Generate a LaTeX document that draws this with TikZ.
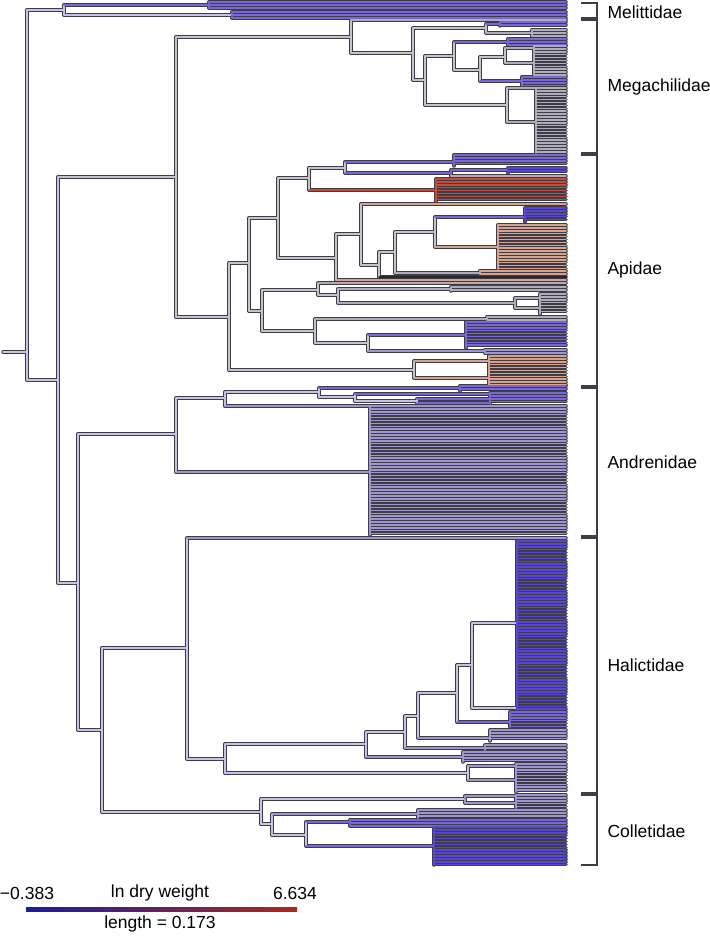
\documentclass[tikz,border=0pt]{standalone}
\usepackage{fontspec}
\setmainfont{Liberation Sans}
\usetikzlibrary{positioning}
\usetikzlibrary{calc}

\definecolor{outl}{RGB}{62,60,72}
\definecolor{bk}{RGB}{200,194,230}
\definecolor{gb}{RGB}{196,196,204}
\definecolor{gy}{RGB}{176,172,184}
\definecolor{gp}{RGB}{160,150,206}
\definecolor{pu}{RGB}{120,104,215}
\definecolor{bl}{RGB}{86,70,212}
\definecolor{rd}{RGB}{198,76,52}
\definecolor{tn}{RGB}{214,164,140}
\definecolor{dk}{RGB}{40,36,48}

\newcommand{\tipx}{566}
% parent, child 1, colour 1, child 2, colour 2, colour of the vertical
\newcommand{\bifurc}[6]{%
  \draw[br=#6] (#1 |- #2) -- (#1 |- #4);
  \draw[br=#3] (#1 |- #2) -- (#2);
  \draw[br=#5] (#1 |- #4) -- (#4);}
% x, first tip, last tip, colour
\newcommand{\fan}[4]{%
  \draw[br=#4] (#1,#2) -- (#1,#3);
  \pgfmathsetmacro\fanstep{#2+2.9}
  \foreach \yy in {#2,\fanstep,...,#3} \draw[br=#4] (#1,\yy) -- (\tipx,\yy);}

\newcommand{\treebody}{%
  \draw[br=bk] (base) -- (root);
  \bifurc{root}{mel}{bk}{nA}{bk}{bk}
  % Melittidae
  \bifurc{mel}{melA}{pu}{melB}{bk}{bk}
  \fan{209}{2}{8}{pu}
  \fan{232}{12}{18}{pu}
  \bifurc{nA}{nB}{gb}{nC}{bk}{bk}
  \bifurc{nB}{mega}{gb}{api}{gb}{gb}
  % Megachilidae
  \bifurc{mega}{mTip}{gy}{m2}{gb}{gb}
  \bifurc{m2}{m3}{gb}{m4}{gb}{gb}
  \bifurc{m3}{m3a}{pu}{m3b}{gy}{gb}
  \fan{500}{22}{26}{pu}
  \fan{532}{30}{36}{gy}
  \bifurc{m4}{m5}{gb}{m6}{gb}{gb}
  \bifurc{m5}{m5a}{pu}{m7}{gb}{gb}
  \fan{508}{39}{45}{pu}
  \bifurc{m7}{m8}{gb}{m7b}{pu}{gb}
  \bifurc{m8}{m8a}{gy}{m8b}{gy}{gb}
  \fan{534}{46}{75}{gy}
  \fan{522}{77}{86}{pu}
  \bifurc{m6}{m6a}{gy}{m6b}{gy}{gb}
  \fan{536}{88}{153}{gy}
  % Apidae
  \bifurc{api}{a1}{gb}{a2}{gb}{gb}
  \bifurc{a1}{a3}{gb}{a4}{gb}{gb}
  \bifurc{a3}{a5}{gb}{a6}{gb}{gb}
  \bifurc{a5}{a7}{gb}{a5b}{rd}{gb}
  \fan{436}{179}{202}{rd}
  \bifurc{a7}{a7a}{pu}{a8}{pu}{gb}
  \fan{454}{155}{166}{pu}
  \bifurc{a8}{a8a}{pu}{a8t}{gy}{pu}
  \fan{508}{168}{173}{bl}
  \bifurc{a6}{a9}{gb}{a6t}{tn}{gb}
  \bifurc{a9}{a9t}{tn}{a10}{gb}{gb}
  \bifurc{a10}{a11}{gb}{a10t}{dk}{gb}
  \bifurc{a11}{a12}{gb}{a13}{gy}{gb}
  \fan{480}{271}{274}{tn}
  \bifurc{a12}{a12a}{pu}{a12b}{tn}{gb}
  \fan{525}{208}{222}{bl}
  \fan{498}{225}{269}{tn}
  \bifurc{a4}{a14}{gb}{a15}{gb}{gb}
  \bifurc{a14}{a14t}{gy}{a16}{gb}{gb}
  \bifurc{a16}{a16a}{gy}{a17}{gy}{gb}
  \fan{451}{287}{291}{gy}
  \bifurc{a17}{a17a}{gy}{a17b}{gy}{gy}
  \fan{540}{294}{314}{gy}
  \bifurc{a15}{a15a}{gy}{a18}{gb}{gb}
  \fan{487}{317}{320}{gy}
  \bifurc{a18}{a18a}{pu}{a18b}{gp}{gb}
  \fan{466}{322}{348}{pu}
  \fan{485}{350}{353}{gp}
  \bifurc{a2}{a2a}{tn}{a2b}{tn}{gb}
  \fan{489}{356}{385}{tn}
  % Andrenidae
  \bifurc{nC}{and}{bk}{nE}{bk}{bk}
  \bifurc{and}{an1}{bk}{anF}{gp}{bk}
  \bifurc{an1}{an2}{bk}{an1b}{gp}{bk}
  \fan{370}{406}{535}{gp}
  \bifurc{an2}{an2a}{pu}{an3}{bk}{bk}
  \fan{460}{386}{391}{pu}
  \bifurc{an3}{an3a}{pu}{an4}{bk}{bk}
  \bifurc{an4}{an4a}{pu}{an4b}{pu}{bk}
  \fan{490}{393}{404}{pu}
  % Halictidae
  \bifurc{nE}{hal}{bk}{col}{bk}{bk}
  \bifurc{hal}{halT}{gp}{h1}{bk}{bk}
  \bifurc{h1}{h2}{bk}{h3}{bk}{bk}
  \bifurc{h2}{h4}{bk}{h5}{gp}{bk}
  \fan{463}{752}{762}{gp}
  \bifurc{h4}{h6}{bk}{h7}{gp}{bk}
  \fan{485}{745}{750}{gp}
  \bifurc{h6}{h8}{bk}{h9}{gp}{bk}
  \fan{490}{730}{741}{gp}
  \bifurc{h8}{h10}{bk}{h11}{pu}{bk}
  \fan{510}{712}{727}{pu}
  \bifurc{h10}{h10a}{bk}{h10b}{bk}{bk}
  \fan{517}{541}{710}{bl}
  \bifurc{h3}{h3a}{gp}{h3b}{gp}{bk}
  \fan{516}{764}{792}{gp}
  % Colletidae
  \bifurc{col}{c1}{bk}{c2}{bk}{bk}
  \bifurc{c1}{c1a}{gp}{c1b}{gp}{gp}
  \fan{516}{795}{808}{gp}
  \bifurc{c2}{c3}{gp}{c4}{bk}{bk}
  \fan{418}{810}{818}{gp}
  \bifurc{c4}{c5}{pu}{c6}{pu}{bk}
  \fan{350}{820}{826}{pu}
  \fan{434}{827}{865}{bl}
}

\begin{document}
\begin{tikzpicture}[x=1pt, y=-1pt,
    outer pass/.style={br/.style={draw=outl, line width=3.5pt, line cap=round, line join=round}},
    inner pass/.style={br/.style={draw=##1, line width=1.5pt, line cap=round, line join=round}},
    bracket/.style={draw=outl, line width=1.3pt},
    family/.style={anchor=west, font=\fontsize{17.5}{20}\selectfont},
    legend/.style={font=\fontsize{17.5}{20}\selectfont}]
    \useasboundingbox (0,0) rectangle (709,936);

    % nodes of the tree
    \coordinate (base) at (3,352);
    \coordinate (root) at (27,352);
    \coordinate (mel) at (64,10);
    \coordinate (melA) at (209,5);
    \coordinate (melB) at (232,15);
    \coordinate (nA) at (58,380);
    \coordinate (nB) at (176,177);
    \coordinate (nC) at (78,583);
    \coordinate (mega) at (351,37);
    \coordinate (mTip) at (566,20);
    \coordinate (m2) at (413,53);
    \coordinate (m3) at (486,28);
    \coordinate (m3a) at (500,24);
    \coordinate (m3b) at (532,33);
    \coordinate (m4) at (425,80);
    \coordinate (m5) at (454,56);
    \coordinate (m5a) at (508,42);
    \coordinate (m7) at (480,70);
    \coordinate (m8) at (505,57);
    \coordinate (m8a) at (534,48);
    \coordinate (m8b) at (534,63);
    \coordinate (m7b) at (522,81);
    \coordinate (m6) at (507,105);
    \coordinate (m6a) at (536,88);
    \coordinate (m6b) at (536,122);
    \coordinate (api) at (229,317);
    \coordinate (a1) at (249,263);
    \coordinate (a2) at (414,370);
    \coordinate (a2a) at (489,361);
    \coordinate (a2b) at (489,378);
    \coordinate (a3) at (278,218);
    \coordinate (a4) at (262,311);
    \coordinate (a5) at (309,178);
    \coordinate (a5b) at (436,190);
    \coordinate (a6) at (336,258);
    \coordinate (a6t) at (566,280);
    \coordinate (a7) at (345,168);
    \coordinate (a7a) at (454,162);
    \coordinate (a8) at (451,173);
    \coordinate (a8a) at (508,170);
    \coordinate (a8t) at (566,176);
    \coordinate (a9) at (361,234);
    \coordinate (a9t) at (566,204);
    \coordinate (a10) at (379,265);
    \coordinate (a10t) at (566,277);
    \coordinate (a11) at (395,252);
    \coordinate (a12) at (435,232);
    \coordinate (a12a) at (525,217);
    \coordinate (a12b) at (498,247);
    \coordinate (a13) at (480,273);
    \coordinate (a14) at (318,290);
    \coordinate (a14t) at (566,283);
    \coordinate (a15) at (315,331);
    \coordinate (a15a) at (487,319);
    \coordinate (a16) at (338,295);
    \coordinate (a16a) at (451,289);
    \coordinate (a17) at (515,303);
    \coordinate (a17a) at (540,298);
    \coordinate (a17b) at (540,308);
    \coordinate (a18) at (368,343);
    \coordinate (a18a) at (466,335);
    \coordinate (a18b) at (485,351);
    \coordinate (and) at (176,434);
    \coordinate (anF) at (370,472);
    \coordinate (an1) at (225,398);
    \coordinate (an1b) at (370,406);
    \coordinate (an2) at (319,392);
    \coordinate (an2a) at (460,388);
    \coordinate (an3) at (355,397);
    \coordinate (an3a) at (490,394);
    \coordinate (an4) at (417,401);
    \coordinate (an4a) at (490,399);
    \coordinate (an4b) at (490,403);
    \coordinate (nE) at (102,730);
    \coordinate (hal) at (187,648);
    \coordinate (halT) at (566,538);
    \coordinate (h1) at (225,759);
    \coordinate (h2) at (366,744);
    \coordinate (h3) at (468,773);
    \coordinate (h3a) at (516,766);
    \coordinate (h3b) at (516,780);
    \coordinate (h4) at (405,732);
    \coordinate (h5) at (463,757);
    \coordinate (h6) at (418,716);
    \coordinate (h7) at (485,748);
    \coordinate (h8) at (457,693);
    \coordinate (h9) at (490,738);
    \coordinate (h10) at (472,665);
    \coordinate (h10a) at (517,623);
    \coordinate (h10b) at (517,708);
    \coordinate (h11) at (510,722);
    \coordinate (col) at (261,812);
    \coordinate (c1) at (465,799);
    \coordinate (c1a) at (516,796);
    \coordinate (c1b) at (516,803);
    \coordinate (c2) at (272,824);
    \coordinate (c3) at (418,814);
    \coordinate (c4) at (306,835);
    \coordinate (c5) at (350,822);
    \coordinate (c6) at (434,846);

    % outline first, colours on top
    \begin{scope}[outer pass] \treebody \end{scope}
    \begin{scope}[inner pass] \treebody \end{scope}

    % families
    \foreach \ya/\yb in {3/18, 20/153, 155/386, 388/536, 538/793, 795/865}
        \draw[bracket] (581,\ya) -- (597,\ya) -- (597,\yb) -- (581,\yb);
    \node[family] (melLab) at (604,12) {Melittidae};
    \node[family] (megaLab) at (604,87) {Megachilidae};
    \node[family] (apiLab) at (604,270) {Apidae};
    \node[family] (andLab) at (604,462) {Andrenidae};
    \node[family] (halLab) at (604,665) {Halictidae};
    \node[family] (colLab) at (604,831) {Colletidae};

    % legend
    \shade[left color={rgb,255:red,28;green,28;blue,160}, middle color={rgb,255:red,150;green,142;blue,168},
        right color={rgb,255:red,175;green,40;blue,28}] (26,907) rectangle (297,911);
    \node[legend] (lowVal) at (27,893) {−0.383};
    \node[legend] (trait) at (160,893) {ln dry weight};
    \node[legend] (highVal) at (295,893) {6.634};
    \node[legend] (scaleLen) at (160,924) {length = 0.173};
\end{tikzpicture}
\end{document}
